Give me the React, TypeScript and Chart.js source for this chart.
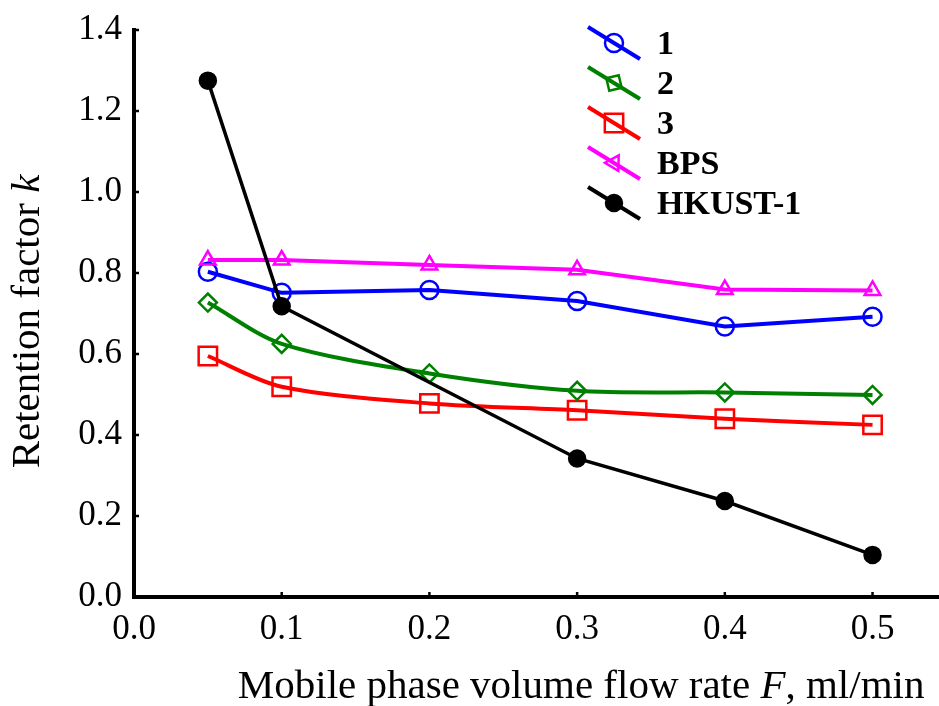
import { useEffect, useRef } from 'react';
import { Chart, registerables } from 'chart.js';

Chart.register(...registerables);

// Mobile phase flow rates, ml/min
const flowRates = [0.05, 0.1, 0.2, 0.3, 0.4, 0.5];
const hkustFlowRates = [0.05, 0.1, 0.3, 0.4, 0.5];

// Retention factor k for each stationary phase
const sorbent1 = [0.803, 0.751, 0.758, 0.731, 0.668, 0.692];
const sorbent2 = [0.727, 0.625, 0.552, 0.509, 0.505, 0.499];
const sorbent3 = [0.595, 0.519, 0.478, 0.461, 0.44, 0.425];
const bps = [0.832, 0.832, 0.82, 0.808, 0.759, 0.757];
const hkust1 = [1.275, 0.718, 0.342, 0.237, 0.104];

const seriesLabels = ['1', '2', '3', 'BPS', 'HKUST-1'];

const xTitleParts: [string, boolean][] = [
  ['Mobile phase volume flow rate ', false],
  ['F', true],
  [', ml/min', false],
];
const yTitleParts: [string, boolean][] = [
  ['Retention factor ', false],
  ['k', true],
];

const SERIF = '"Liberation Serif", "Times New Roman", serif';

type MarkerStyle = 'circle' | 'rect' | 'rectRot' | 'triangle';

interface SeriesDef {
  label: string;
  flows: number[];
  values: number[];
  color: string;
  marker: MarkerStyle;
  radius: number;
  filled: boolean;
  tension: number;
  lineWidth: number;
  order: number;
}

const series: SeriesDef[] = [
  { label: seriesLabels[0], flows: flowRates, values: sorbent1, color: '#0000ff', marker: 'circle', radius: 9, filled: false, tension: 0, lineWidth: 4, order: 3 },
  { label: seriesLabels[1], flows: flowRates, values: sorbent2, color: '#008000', marker: 'rectRot', radius: 9, filled: false, tension: 0.3, lineWidth: 4, order: 4 },
  { label: seriesLabels[2], flows: flowRates, values: sorbent3, color: '#ff0000', marker: 'rect', radius: 13, filled: false, tension: 0.3, lineWidth: 4, order: 5 },
  { label: seriesLabels[3], flows: flowRates, values: bps, color: '#ff00ff', marker: 'triangle', radius: 9, filled: false, tension: 0, lineWidth: 4, order: 2 },
  { label: seriesLabels[4], flows: hkustFlowRates, values: hkust1, color: '#000000', marker: 'circle', radius: 8, filled: true, tension: 0, lineWidth: 3.5, order: 1 },
];

function markerPath(ctx: CanvasRenderingContext2D, style: MarkerStyle, r: number) {
  ctx.beginPath();
  if (style === 'circle') {
    ctx.arc(0, 0, r, 0, Math.PI * 2);
  } else if (style === 'rect') {
    const s = r * Math.SQRT1_2;
    ctx.rect(-s, -s, 2 * s, 2 * s);
  } else if (style === 'rectRot') {
    ctx.moveTo(0, -r);
    ctx.lineTo(r, 0);
    ctx.lineTo(0, r);
    ctx.lineTo(-r, 0);
    ctx.closePath();
  } else {
    for (let k = 0; k < 3; k++) {
      const a = (k * 2 * Math.PI) / 3;
      const px = Math.sin(a) * r;
      const py = -Math.cos(a) * r;
      if (k === 0) ctx.moveTo(px, py);
      else ctx.lineTo(px, py);
    }
    ctx.closePath();
  }
}

function drawMixedText(
  ctx: CanvasRenderingContext2D,
  parts: [string, boolean][],
  size: number,
  cx: number,
  cy: number,
  rotation: number
) {
  ctx.save();
  ctx.translate(cx, cy);
  ctx.rotate(rotation);
  ctx.fillStyle = '#000';
  ctx.textBaseline = 'middle';
  ctx.textAlign = 'left';
  const fontFor = (italic: boolean) => `${italic ? 'italic ' : ''}${size}px ${SERIF}`;
  let total = 0;
  for (const [t, it] of parts) {
    ctx.font = fontFor(it);
    total += ctx.measureText(t).width;
  }
  let x = -total / 2;
  for (const [t, it] of parts) {
    ctx.font = fontFor(it);
    ctx.fillText(t, x, 0);
    x += ctx.measureText(t).width;
  }
  ctx.restore();
}

// Short inward tick marks on both axes
const innerTicksPlugin = {
  id: 'innerTicks',
  afterDraw(chart: any) {
    const { ctx, chartArea, scales } = chart;
    ctx.save();
    ctx.strokeStyle = '#000';
    ctx.lineWidth = 2.5;
    for (const t of scales.y.ticks) {
      const y = scales.y.getPixelForValue(t.value);
      ctx.beginPath();
      ctx.moveTo(chartArea.left, y);
      ctx.lineTo(chartArea.left + 5, y);
      ctx.stroke();
    }
    for (const t of scales.x.ticks) {
      const x = scales.x.getPixelForValue(t.value);
      ctx.beginPath();
      ctx.moveTo(x, chartArea.bottom);
      ctx.lineTo(x, chartArea.bottom - 5);
      ctx.stroke();
    }
    ctx.restore();
  },
};

// Axis titles with italic symbols
const axisTitlesPlugin = {
  id: 'axisTitles',
  afterDraw(chart: any) {
    const { ctx, chartArea, scales } = chart;
    const midY = (chartArea.top + chartArea.bottom) / 2 + 8;
    drawMixedText(ctx, yTitleParts, 41, 28, midY, -Math.PI / 2);
    drawMixedText(ctx, xTitleParts, 41, scales.x.getPixelForValue(0.3) + 4, chartArea.bottom + 90, 0);
  },
};

// Legend: slanted line segment with the series marker and a bold label
const legendPlugin = {
  id: 'slantLegend',
  afterDraw(chart: any) {
    const { ctx } = chart;
    const lineCx = 614;
    const labelX = 657;
    const top = 43;
    const step = 40;
    const dx = 26;
    const dy = 16;
    const angle = Math.atan2(dy, dx);
    ctx.save();
    series.forEach((s, i) => {
      const cy = top + i * step;
      ctx.strokeStyle = s.color;
      ctx.lineWidth = 4;
      ctx.lineCap = 'butt';
      ctx.beginPath();
      ctx.moveTo(lineCx - dx, cy - dy);
      ctx.lineTo(lineCx + dx, cy + dy);
      ctx.stroke();

      ctx.save();
      ctx.translate(lineCx, cy);
      if (s.marker === 'rectRot' || s.marker === 'triangle') ctx.rotate(angle);
      markerPath(ctx, s.marker, s.radius);
      if (s.filled) {
        ctx.fillStyle = s.color;
        ctx.fill();
      }
      ctx.lineWidth = 2.5;
      ctx.strokeStyle = s.color;
      ctx.stroke();
      ctx.restore();

      ctx.fillStyle = '#000';
      ctx.font = `bold 34px ${SERIF}`;
      ctx.textAlign = 'left';
      ctx.textBaseline = 'middle';
      ctx.fillText(s.label, labelX, cy + 2);
    });
    ctx.restore();
  },
};

const zeroPadding = (s: any) => {
  s.paddingLeft = 0;
  s.paddingRight = 0;
  s.paddingTop = 0;
  s.paddingBottom = 0;
};

export default function App() {
  const canvasRef = useRef<HTMLCanvasElement | null>(null);

  useEffect(() => {
    if (!canvasRef.current) return;
    const datasets = series.map((s) => ({
      label: s.label,
      data: s.flows.map((f, i) => ({ x: f, y: s.values[i] })),
      borderColor: s.color,
      borderWidth: s.lineWidth,
      tension: s.tension,
      pointStyle: s.marker,
      pointRadius: s.radius,
      pointBorderWidth: 2.5,
      pointBorderColor: s.color,
      pointBackgroundColor: s.filled ? s.color : 'rgba(0,0,0,0)',
      order: s.order,
      fill: false,
    }));

    const chart = new Chart(canvasRef.current, {
      type: 'line',
      data: { datasets },
      options: {
        animation: false,
        responsive: false,
        maintainAspectRatio: false,
        layout: { autoPadding: false, padding: { top: 30, right: 0, bottom: 0, left: 0 } },
        plugins: {
          legend: { display: false },
          tooltip: { enabled: false },
        },
        scales: {
          x: {
            type: 'linear',
            min: 0,
            max: 0.545,
            afterFit: (s: any) => {
              s.height = 109;
              zeroPadding(s);
            },
            ticks: {
              stepSize: 0.1,
              includeBounds: false,
              color: '#000',
              padding: 12,
              font: { family: SERIF, size: 35 },
              callback: (v: any) => Number(v).toFixed(1),
            },
            grid: { drawOnChartArea: false, drawTicks: false },
            border: { display: true, color: '#000', width: 4 },
          },
          y: {
            type: 'linear',
            min: 0,
            max: 1.4,
            afterFit: (s: any) => {
              s.width = 134;
              zeroPadding(s);
            },
            ticks: {
              stepSize: 0.2,
              color: '#000',
              padding: 12,
              font: { family: SERIF, size: 35 },
              callback: (v: any) => Number(v).toFixed(1),
            },
            grid: { drawOnChartArea: false, drawTicks: false },
            border: { display: true, color: '#000', width: 4 },
          },
        },
      },
      plugins: [innerTicksPlugin, axisTitlesPlugin, legendPlugin],
    });
    return () => chart.destroy();
  }, []);

  return (
    <div style={{ position: 'absolute', left: 0, top: 0, width: 939, height: 706, background: '#fff' }}>
      <canvas ref={canvasRef} width={939} height={706} style={{ display: 'block' }} />
    </div>
  );
}
